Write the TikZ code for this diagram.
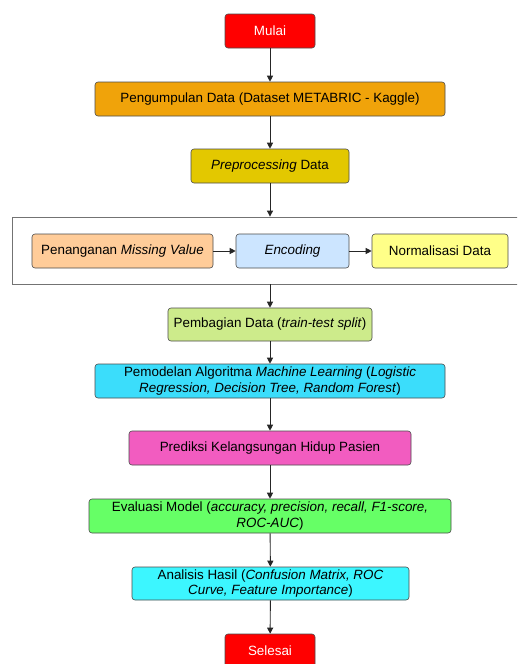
\documentclass[tikz,border=0pt]{standalone}
\usepackage{fontspec}
\setmainfont{Liberation Sans}
\usetikzlibrary{arrows.meta}
\definecolor{cRed}{HTML}{FF0000}
\definecolor{cOrange}{HTML}{F0A30A}
\definecolor{cYellowD}{HTML}{E3C800}
\definecolor{cPeach}{HTML}{FFCC99}
\definecolor{cLBlue}{HTML}{CCE5FF}
\definecolor{cLYellow}{HTML}{FFFF88}
\definecolor{cLGreen}{HTML}{CDEB8B}
\definecolor{cCyan}{HTML}{3BDDFB}
\definecolor{cPink}{HTML}{F25CC0}
\definecolor{cGreen}{HTML}{66FF66}
\definecolor{cAqua}{HTML}{3CF6FF}
\tikzset{
  box/.style={draw=black!70, rounded corners=3pt, minimum height=34pt, inner sep=0pt,
    font=\fontsize{13.4}{15.8}\selectfont, align=center, line width=0.6pt},
  arr/.style={draw=black!85, line width=0.9pt, -{Triangle[length=6pt,width=6pt]}},
}
\begin{document}
\begin{tikzpicture}[x=1pt,y=-1pt]
\useasboundingbox (0,0) rectangle (517,664);
\clip (0,0) rectangle (517,664);
\fill[white] (0,0) rectangle (517,664);
\node[box, fill=cRed, text=white, minimum width=90pt] (mulai) at (270,31) {Mulai};
\node[box, fill=cOrange, minimum width=350pt] (collect) at (270,99) {Pengumpulan Data (Dataset METABRIC - Kaggle)};
\node[box, fill=cYellowD, minimum width=158pt] (prep) at (270,166) {\textit{Preprocessing} Data};
\node[draw=black!55, fill=white, line width=0.8pt, minimum width=520pt, minimum height=67pt, inner sep=0pt] (cont) at (272,250.5) {};
\node[box, fill=cPeach, minimum width=181pt] (miss) at (122.5,251) {Penanganan \textit{Missing Value}};
\node[box, fill=cLBlue, minimum width=113pt] (enc) at (292.5,251) {\textit{Encoding}};
\node[box, fill=cLYellow, minimum width=136pt] (norm) at (440,251) {Normalisasi Data};
\node[box, fill=cLGreen, minimum width=204pt, minimum height=33pt] (split) at (270,324.5) {Pembagian Data (\textit{train-test split})};
\node[box, fill=cCyan, minimum width=350pt] (model) at (270,381) {Pemodelan Algoritma \textit{Machine Learning} (\textit{Logistic}\\\textit{Regression, Decision Tree, Random Forest})};
\node[box, fill=cPink, minimum width=282pt] (pred) at (270,448) {Prediksi Kelangsungan Hidup Pasien};
\node[box, fill=cGreen, minimum width=362pt] (eval) at (270,516) {Evaluasi Model (\textit{accuracy, precision, recall, F1-score,}\\\textit{ROC-AUC})};
\node[box, fill=cAqua, minimum width=277pt, minimum height=33pt] (anal) at (270.5,583.5) {Analisis Hasil (\textit{Confusion Matrix, ROC}\\\textit{Curve, Feature Importance})};
\node[box, fill=cRed, text=white, minimum width=90pt] (selesai) at (270,651) {Selesai};
\draw[arr] (mulai) -- (collect);
\draw[arr] (collect) -- (prep);
\draw[arr] (prep.south) -- (prep.south |- cont.north);
\draw[arr] (miss) -- (enc);
\draw[arr] (enc) -- (norm);
\draw[arr] (split.north |- cont.south) -- (split.north);
\draw[arr] (split) -- (model);
\draw[arr] (model) -- (pred);
\draw[arr] (pred) -- (eval);
\draw[arr] (eval) -- (anal);
\draw[arr] (anal) -- (selesai);
\end{tikzpicture}
\end{document}
